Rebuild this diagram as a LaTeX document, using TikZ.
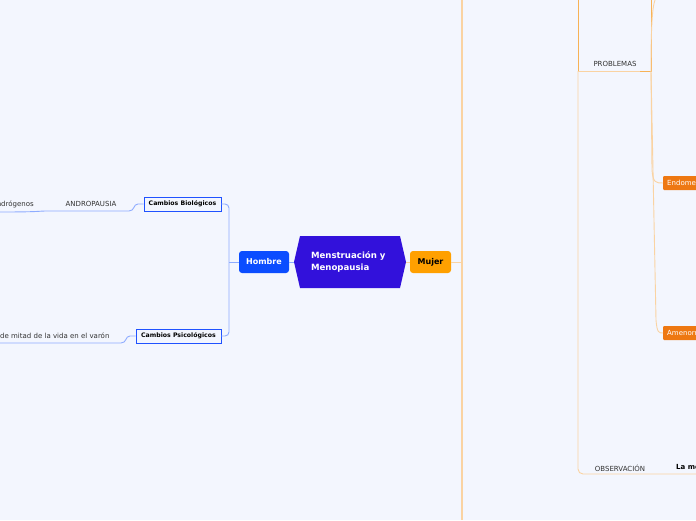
\documentclass[tikz,border=0pt]{standalone}
\usepackage{fontspec}
\setmainfont{DejaVu Sans}
\usetikzlibrary{shapes.symbols}
\definecolor{fondo}{HTML}{F3F6FE}
\definecolor{morado}{HTML}{3211DB}
\definecolor{azul}{HTML}{0B4DFF}
\definecolor{azulborde}{HTML}{2052FF}
\definecolor{azulrama}{HTML}{8EACFF}
\definecolor{naranja}{HTML}{FFA000}
\definecolor{naranjaosc}{HTML}{EE7812}
\definecolor{ramaosc}{HTML}{F7B256}
\definecolor{ramaclara}{HTML}{FAD3A2}
\definecolor{gris}{HTML}{333333}

\begin{document}
\begin{tikzpicture}[x=1pt,y=-1pt,inner sep=0pt,
  raiz/.style={signal,signal to=east and west,signal pointer angle=154,
    fill=morado,minimum width=112,minimum height=52,text=white,
    font=\fontsize{8.6}{11.5}\selectfont\bfseries,align=left,text width=78},
  tema/.style={rounded corners=3,minimum height=22,
    font=\fontsize{8}{10}\selectfont\bfseries},
  caja/.style={draw=azulborde,fill=fondo,line width=0.9,minimum height=14,
    font=\fontsize{6.2}{8}\selectfont\bfseries},
  etiq/.style={text=gris,font=\fontsize{7}{8}\selectfont},
  hoja/.style={fill=naranjaosc,text=white,minimum height=14,inner xsep=4,
    rounded corners=1,font=\fontsize{7}{8}\selectfont,anchor=west},
  ramaazul/.style={draw=azulrama,line width=0.9},
  ramaosc/.style={draw=ramaosc,line width=0.9},
  ramaclara/.style={draw=ramaclara,line width=0.9}]
\useasboundingbox (0,0) rectangle (696,520);
\fill[fondo] (0,0) rectangle (696,520);
\clip (0,0) rectangle (696,520);

% centro
\node[raiz] (centro) at (350,262) {Menstruación y\\Menopausia};
\node[tema,fill=azul,text=white,minimum width=50] (hombre) at (264,262) {Hombre};
\node[tema,fill=naranja,minimum width=41] (mujer) at (430.5,262) {Mujer};
\draw[ramaazul] (hombre.east) -- (centro.west);
\draw[ramaclara] (centro.east) -- (mujer.west);

% hombre
\node[caja,minimum width=77] (bio) at (182.5,204) {Cambios Biológicos};
\node[caja,minimum width=85] (psico) at (178.5,336) {Cambios Psicológicos};
\node[etiq] (andro) at (91,204) {ANDROPAUSIA};
\node[etiq,anchor=east] (andrg) at (34,204) {andrógenos};
\node[etiq,anchor=west] (crisis) at (0,336) {de mitad de la vida en el varón};
\coordinate (ejeH) at (229,262);
\coordinate (u1) at (45,211);
\coordinate (u0) at (0,212);
\coordinate (v0) at (0,343);
\draw[ramaazul] (hombre.west) -- (ejeH);
\draw[ramaazul,rounded corners=4] (bio.east) -| (ejeH) |- (psico.east);
\draw[ramaazul] (bio.west) -- (138,204) .. controls (133,204) and (135,211) .. (129,211)
  -- (u1) .. controls (40,211) and (40,212) .. (u0);
\draw[ramaazul] (psico.west) -- (130,336) .. controls (125,336) and (127,343) .. (121,343)
  -- (v0);

% mujer
\coordinate (ejeM) at (462,262);
\draw[ramaclara,line width=1.6] (462,0) -- (462,520);
\draw[ramaclara] (mujer.east) -- (ejeM);
\node[etiq] (prob) at (615,64) {PROBLEMAS};
\node[etiq] (obs) at (620,468) {OBSERVACIÓN};
\node[anchor=west,font=\fontsize{7}{8}\selectfont\bfseries] (nota) at (676,468) {La menopausia};
\node[hoja] (endo) at (663,183) {Endometriosis};
\node[hoja] (amen) at (663,333) {Amenorrea};
\coordinate (p0) at (578,71);
\coordinate (p1) at (651,71);
\draw[ramaosc] (578,0) -- (p0);
\draw[ramaclara,rounded corners=5] (p0) -- (578,474) -- (696,474);
\draw[ramaclara] (p0) -- (640,71);
\draw[ramaosc] (640,71) -- (p1) -- (651,0);
\draw[ramaclara] (p1) .. controls (651,30) and (652,8) .. (655,0);
\draw[ramaclara] (p1) -- (652,170) .. controls (653,183) and (656,183) .. (endo.west);
\draw[ramaclara] (p1) -- (656,320) .. controls (657,333) and (659,333) .. (amen.west);
\end{tikzpicture}
\end{document}
